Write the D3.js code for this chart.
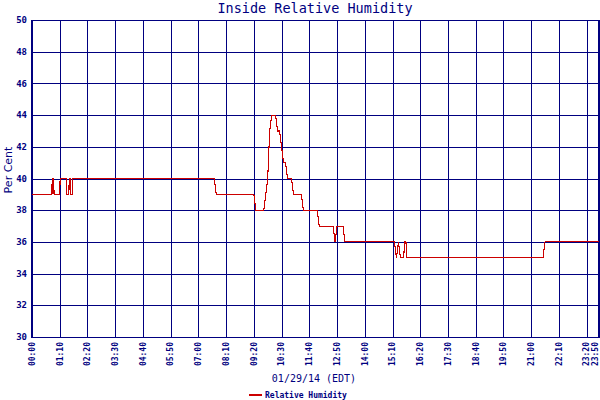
<!DOCTYPE html>
<html>
<head>
<meta charset="utf-8">
<script src="https://cdn.jsdelivr.net/npm/d3@7"></script>
<style>
  html, body { margin: 0; padding: 0; background: #ffffff; }
  svg { display: block; }
</style>
</head>
<body>
<svg id="chart" width="600" height="400"></svg>
<script>
// ---- data (minutes after midnight, relative humidity %) ----
const sampleMinutes = [0, 50, 51, 53, 54, 56, 70, 71, 87, 88, 93, 94, 97, 98, 102, 103,
  460, 465, 560, 565, 585, 590, 595, 600, 605, 615, 620, 625, 630, 635, 640, 645, 655, 660,
  680, 685, 720, 725, 760, 765, 770, 785, 790,
  915, 920, 925, 930, 938, 941, 944, 946,
  1290, 1295, 1430];
const humidityValues = [39, 39, 40, 39, 40, 39, 39, 40, 40, 39, 39, 40, 40, 39, 39, 40,
  40, 39, 39, 38, 38, 39, 40, 43, 44, 44, 43, 43, 42, 41, 41, 40, 40, 39,
  39, 38, 38, 37, 37, 36, 37, 37, 36,
  36, 35, 36, 35, 35, 36, 36, 35,
  35, 36, 36];
const xTickMinutes = [0, 70, 140, 210, 280, 350, 420, 490, 560, 630, 700, 770, 840, 910,
  980, 1050, 1120, 1190, 1260, 1330, 1400, 1430];
const xTickLabels = ["00:00", "01:10", "02:20", "03:30", "04:40", "05:50", "07:00", "08:10",
  "09:20", "10:30", "11:40", "12:50", "14:00", "15:10", "16:20", "17:30", "18:40", "19:50",
  "21:00", "22:10", "23:20", "23:50"];
const yTickValues = [30, 32, 34, 36, 38, 40, 42, 44, 46, 48, 50];
const yTickLabels = ["30", "32", "34", "36", "38", "40", "42", "44", "46", "48", "50"];
const chartTitle = "Inside Relative Humidity";
const xAxisTitle = "01/29/14 (EDT)";
const yAxisTitle = "Per Cent";
const seriesName = "Relative Humidity";

// ---- drawing ----
const NAVY = "#000080";
const RED = "#cc0000";
const svg = d3.select("#chart");

const x = d3.scaleLinear().domain([0, 1430]).range([32, 598.5]);
const y = d3.scaleLinear().domain([30, 50]).range([337, 20]);

// horizontal grid
svg.append("g").selectAll("line").data(yTickValues).join("line")
  .attr("x1", x(0)).attr("x2", x(1430))
  .attr("y1", d => Math.round(y(d)) + 0.5).attr("y2", d => Math.round(y(d)) + 0.5)
  .attr("stroke", NAVY).attr("stroke-width", 1).attr("shape-rendering", "crispEdges");

// vertical grid
svg.append("g").selectAll("line").data(xTickMinutes).join("line")
  .attr("x1", d => Math.round(x(d)) + 0.5).attr("x2", d => Math.round(x(d)) + 0.5)
  .attr("y1", y(50)).attr("y2", y(30))
  .attr("stroke", NAVY).attr("stroke-width", 1).attr("shape-rendering", "crispEdges");

// frame emphasis: left axis, right edge, bottom axis
svg.append("line").attr("x1", 32).attr("x2", 32).attr("y1", y(50)).attr("y2", y(30) + 1)
  .attr("stroke", NAVY).attr("stroke-width", 2).attr("shape-rendering", "crispEdges");
svg.append("line").attr("x1", 598.5).attr("x2", 598.5).attr("y1", y(50)).attr("y2", y(30) + 1)
  .attr("stroke", NAVY).attr("stroke-width", 2).attr("shape-rendering", "crispEdges");
svg.append("line").attr("x1", 31).attr("x2", 599.5).attr("y1", y(30) + 0.5).attr("y2", y(30) + 0.5)
  .attr("stroke", NAVY).attr("stroke-width", 1.5).attr("shape-rendering", "crispEdges");

// y tick labels
svg.append("g").selectAll("text").data(yTickValues).join("text")
  .attr("x", 27).attr("y", d => y(d))
  .attr("dy", "0.35em")
  .attr("text-anchor", "end")
  .attr("font-family", "DejaVu Sans Mono, monospace")
  .attr("font-size", 9).attr("font-weight", "bold")
  .attr("fill", NAVY)
  .text((d, i) => yTickLabels[i]);

// x tick labels (rotated); keep the last one inside the picture
svg.append("g").selectAll("text").data(xTickMinutes).join("text")
  .attr("transform", d => `translate(${Math.min(x(d), 595.5)},342) rotate(-90)`)
  .attr("dy", "0.35em")
  .attr("text-anchor", "end")
  .attr("font-family", "DejaVu Sans Mono, monospace")
  .attr("font-size", 8).attr("font-weight", "bold")
  .attr("fill", NAVY)
  .text((d, i) => xTickLabels[i]);

// data line
const pts = sampleMinutes.map((m, i) => [m, humidityValues[i]]);
const line = d3.line().x(d => x(d[0])).y(d => y(d[1]));
svg.append("path").datum(pts)
  .attr("d", line)
  .attr("fill", "none")
  .attr("stroke", RED).attr("stroke-width", 1.1)
  .attr("shape-rendering", "crispEdges");

// title
svg.append("text").attr("x", 315).attr("y", 13)
  .attr("text-anchor", "middle")
  .attr("font-family", "DejaVu Sans Mono, monospace")
  .attr("font-size", 13.5)
  .attr("fill", NAVY).text(chartTitle);

// x axis title
svg.append("text").attr("x", 314).attr("y", 382)
  .attr("text-anchor", "middle")
  .attr("font-family", "DejaVu Sans Mono, monospace")
  .attr("font-size", 10)
  .attr("fill", NAVY).text(xAxisTitle);

// y axis title
svg.append("text").attr("transform", "translate(12,170) rotate(-90)")
  .attr("text-anchor", "middle")
  .attr("font-family", "DejaVu Sans, sans-serif")
  .attr("font-size", 11)
  .attr("fill", NAVY).text(yAxisTitle);

// legend
svg.append("line").attr("x1", 249).attr("x2", 262).attr("y1", 395).attr("y2", 395)
  .attr("stroke", RED).attr("stroke-width", 2);
svg.append("text").attr("x", 265).attr("y", 395)
  .attr("dy", "0.35em")
  .attr("font-family", "DejaVu Sans Mono, monospace")
  .attr("font-size", 8).attr("font-weight", "bold")
  .attr("fill", NAVY).text(seriesName);
</script>
</body>
</html>
